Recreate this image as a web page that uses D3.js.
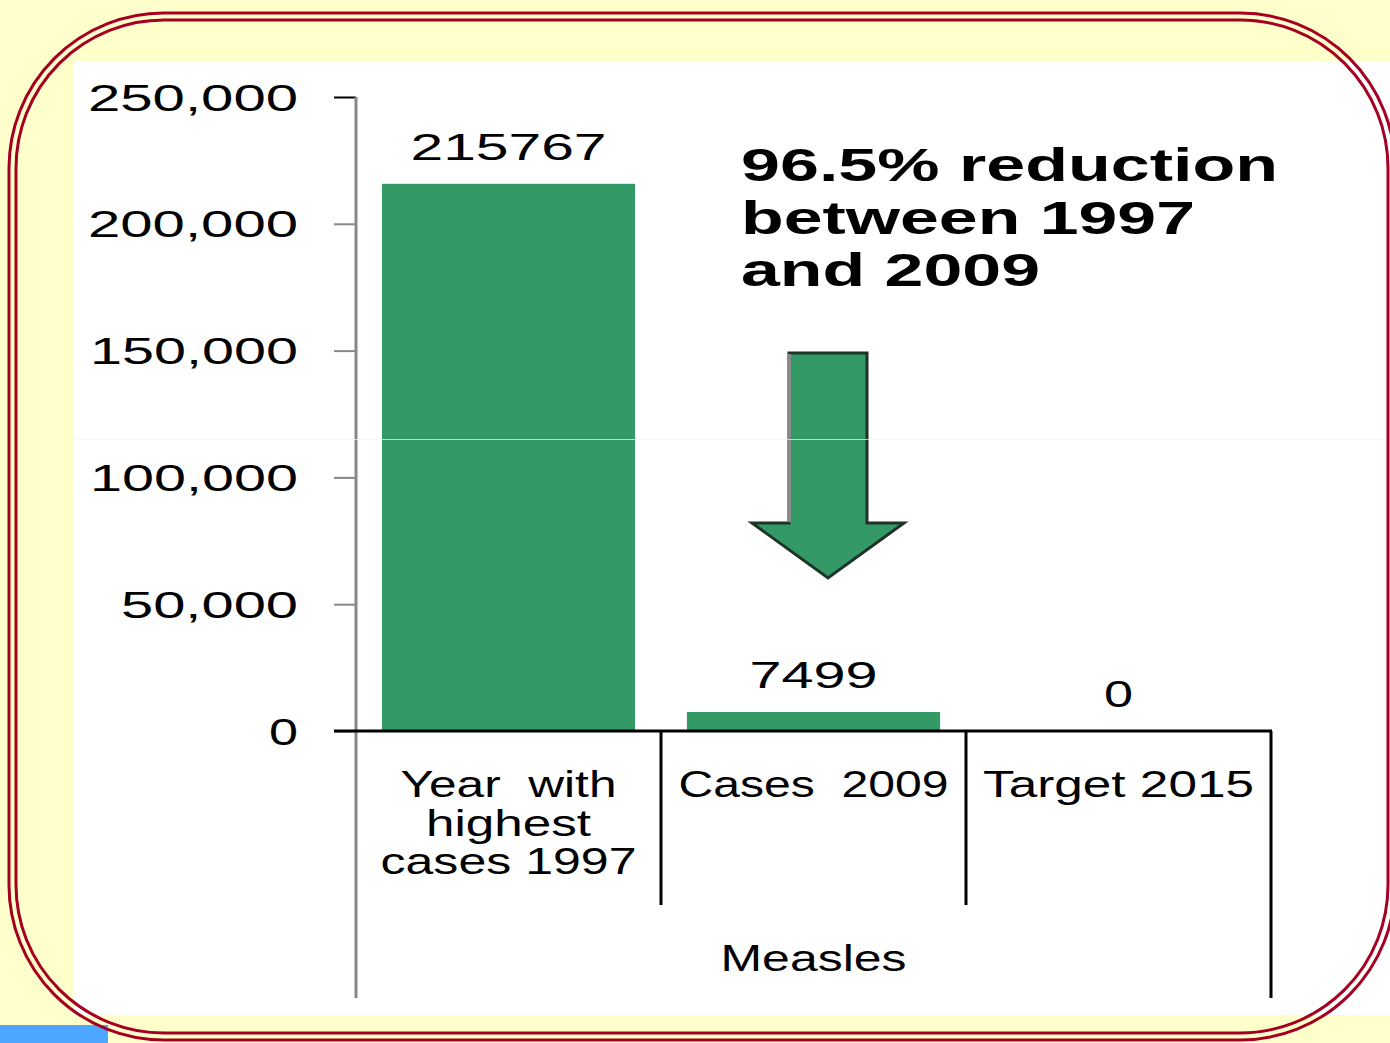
<!DOCTYPE html>
<html>
<head>
<meta charset="utf-8">
<script src="https://cdn.jsdelivr.net/npm/d3@7"></script>
<style>
  html, body { margin: 0; padding: 0; background: #ffffcc; }
  svg { display: block; }
  text { font-family: "Liberation Sans", Arial, sans-serif; fill: #000; white-space: pre; }
</style>
</head>
<body>
<svg class="slide" width="1390" height="1043"></svg>
<script>
// chart values
const categoryLines = [["Year  with", "highest", "cases 1997"], ["Cases  2009"], ["Target 2015"]]
const cases = [215767, 7499, 0]
const groupLabel = "Measles"
const yTicks = [0, 50000, 100000, 150000, 200000, 250000]
const annotationLines = ["96.5% reduction", "between 1997", "and 2009"]

// the slide text is stretched wide, so each string gets its measured width
const textWidths = {
    "250,000": 210, "200,000": 210, "150,000": 208, "100,000": 208, "50,000": 177, "0": 29,
    "215767": 196, "7499": 128,
    "Year  with": 216, "highest": 165, "cases 1997": 256, "Cases  2009": 270, "Target 2015": 271,
    "Measles": 186,
    "96.5% reduction": 537, "between 1997": 454, "and 2009": 299
}
const stretch = sel => sel
    .attr('textLength', d => textWidths[typeof d === 'string' ? d : d3.format(',')(d)])
    .attr('lengthAdjust', 'spacingAndGlyphs')

const green = '#339966'
const svg = d3.select('.slide')

// slide background pieces
svg.append('rect').attr('width', 1390).attr('height', 1043).attr('fill', '#ffffcc')
svg.append('rect').attr('x', 0).attr('y', 1025).attr('width', 108).attr('height', 18).attr('fill', '#4da6ff')
svg.append('rect').attr('x', 73).attr('y', 61).attr('width', 1317).attr('height', 954).attr('fill', '#fff')

// scales
const x = d3.scaleBand()
    .domain(d3.range(cases.length))
    .range([356, 1271])
    .paddingInner(0.17)
    .paddingOuter(0.085)
const cell = d3.scaleBand()
    .domain(d3.range(cases.length))
    .range([356, 1271])
const y = d3.scaleLinear().domain([0, 250000]).range([731, 97])

const g = svg.append('g')

// y axis
const yAxis = g.append('g')
    .attr('transform', 'translate(356,0)')
    .call(d3.axisLeft(y).tickValues(yTicks).tickSize(22).tickPadding(36).tickFormat(d3.format(',')))
yAxis.select('.domain').remove()
yAxis.selectAll('.tick line').attr('stroke', d => d === 250000 ? '#000' : '#888').attr('stroke-width', 2)
yAxis.selectAll('.tick text')
    .attr('font-size', 37)
    .attr('font-family', '"Liberation Sans", Arial, sans-serif')
    .attr('dy', 13)
    .call(stretch)

g.append('line')
    .attr('x1', 356).attr('x2', 356)
    .attr('y1', y(250000)).attr('y2', 998)
    .attr('stroke', '#888').attr('stroke-width', 3)

// bars
g.selectAll('.bar')
    .data(cases)
    .enter()
    .append('rect')
    .attr('class', 'bar')
    .attr('x', (d, i) => x(i))
    .attr('width', x.bandwidth())
    .attr('y', d => y(d))
    .attr('height', d => y(0) - y(d))
    .attr('fill', green)

// value labels
g.selectAll('.value')
    .data(cases)
    .enter()
    .append('text')
    .attr('class', 'value')
    .attr('x', (d, i) => x(i) + x.bandwidth() / 2)
    .attr('y', d => y(d) - 24)
    .attr('text-anchor', 'middle')
    .attr('font-size', 37)
    .text(d => String(d))
    .attr('textLength', d => textWidths[String(d)])
    .attr('lengthAdjust', 'spacingAndGlyphs')

// category frame: baseline + separators
g.append('line')
    .attr('x1', 334).attr('x2', 1272)
    .attr('y1', y(0)).attr('y2', y(0))
    .attr('stroke', '#000').attr('stroke-width', 3)
cell.domain().forEach(i => {
    const last = i === cases.length - 1
    g.append('line')
        .attr('x1', cell(i) + cell.bandwidth()).attr('x2', cell(i) + cell.bandwidth())
        .attr('y1', y(0)).attr('y2', last ? 998 : 905)
        .attr('stroke', '#000').attr('stroke-width', 3)
})

// category labels
const catG = g.selectAll('.cat')
    .data(categoryLines)
    .enter()
    .append('text')
    .attr('class', 'cat')
    .attr('text-anchor', 'middle')
    .attr('font-size', 37)
catG.selectAll('tspan')
    .data((lines, i) => lines.map((l, k) => ({ l, k, i })))
    .enter()
    .append('tspan')
    .attr('x', d => cell(d.i) + cell.bandwidth() / 2)
    .attr('y', d => y(0) + 66 + d.k * 38.5)
    .text(d => d.l)
    .attr('textLength', d => textWidths[d.l])
    .attr('lengthAdjust', 'spacingAndGlyphs')

g.append('text')
    .attr('x', (cell.range()[0] + cell.range()[1]) / 2)
    .attr('y', 971)
    .attr('text-anchor', 'middle')
    .attr('font-size', 37)
    .text(groupLabel)
    .attr('textLength', textWidths[groupLabel])
    .attr('lengthAdjust', 'spacingAndGlyphs')

// annotation text
g.selectAll('.note')
    .data(annotationLines)
    .enter()
    .append('text')
    .attr('class', 'note')
    .attr('x', 741)
    .attr('y', (d, i) => 181 + i * 52.5)
    .attr('font-size', 46)
    .attr('font-weight', 'bold')
    .text(d => d)
    .attr('textLength', d => textWidths[d])
    .attr('lengthAdjust', 'spacingAndGlyphs')

// down arrow
const arrow = { cx: 828, top: 353, shaft: 39, shoulder: 523, head: 76, tip: 578 }
const arrowPts = [
    [arrow.cx - arrow.shaft, arrow.top],
    [arrow.cx + arrow.shaft, arrow.top],
    [arrow.cx + arrow.shaft, arrow.shoulder],
    [arrow.cx + arrow.head, arrow.shoulder],
    [arrow.cx, arrow.tip],
    [arrow.cx - arrow.head, arrow.shoulder],
    [arrow.cx - arrow.shaft, arrow.shoulder]
]
g.append('path')
    .attr('d', d3.line()(arrowPts) + 'Z')
    .attr('fill', green)
    .attr('stroke', '#1f3329')
    .attr('stroke-width', 3)
    .attr('stroke-linejoin', 'miter')
g.append('line')
    .attr('x1', arrow.cx - arrow.shaft).attr('x2', arrow.cx - arrow.shaft)
    .attr('y1', arrow.top + 1).attr('y2', arrow.shoulder - 1)
    .attr('stroke', '#8a8a8a').attr('stroke-width', 4)

// faint seam across the pasted picture
svg.append('line')
    .attr('x1', 73).attr('x2', 1390)
    .attr('y1', 439.5).attr('y2', 439.5)
    .attr('stroke', '#fbf8dc').attr('stroke-width', 1).attr('opacity', 0.7)

// double rounded border
const frame = [
    { x: 9, y: 13, w: 1386, h: 1027, r: 155 },
    { x: 16, y: 20, w: 1372, h: 1013, r: 148 }
]
svg.selectAll('.frame')
    .data(frame)
    .enter()
    .append('rect')
    .attr('class', 'frame')
    .attr('x', d => d.x).attr('y', d => d.y)
    .attr('width', d => d.w).attr('height', d => d.h)
    .attr('rx', d => d.r).attr('ry', d => d.r)
    .attr('fill', 'none')
    .attr('stroke', '#a50021')
    .attr('stroke-width', 3)
</script>
</body>
</html>
